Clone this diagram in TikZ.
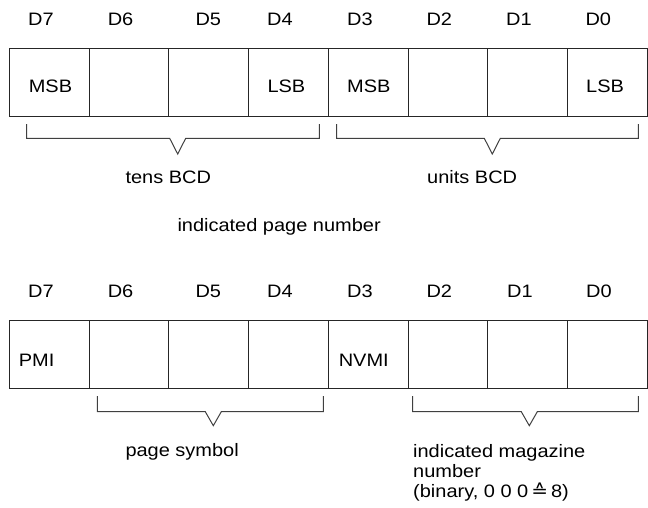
\documentclass[tikz,border=0pt]{standalone}
\usepackage{fontspec}
\setmainfont[FakeStretch=1.11]{Liberation Sans}
\newfontfamily\symfont[FakeStretch=1.11]{DejaVu Sans}
\begin{document}
\begin{tikzpicture}[x=1pt,y=-1pt,line width=1pt,
  cell/.style={draw=black!85,line width=1pt,inner sep=0pt,minimum width=79.7pt,minimum height=68.3pt,anchor=north west},
  lbl/.style={anchor=base west,inner sep=0pt,font=\fontsize{18}{20}\selectfont},
  brk/.style={draw=black!75,line width=1pt,line join=miter}]
\useasboundingbox (0,0) rectangle (648,507);
% cells of both rows
\foreach \i/\x in {7/9,6/88.7,5/168.4,4/248.1,3/327.8,2/407.5,1/487.2,0/566.9}{
  \node[cell] (t\i) at (\x,47.7) {};
  \node[cell] (b\i) at (\x,320) {};
}
% bit labels
\foreach \i/\x in {7/27.7,6/107.3,5/195,4/266.7,3/346.7,2/426,1/505.7,0/585}{
  \node[lbl] (tl\i) at (\x,25) {D\i};
}
\foreach \i/\x in {7/27.7,6/107.3,5/195,4/266.7,3/346.7,2/426,1/506.7,0/585.7}{
  \node[lbl] (bl\i) at (\x,297.5) {D\i};
}
\node[lbl] (msb1) at (28.3,92.3) {MSB};
\node[lbl] (lsb1) at (267,92.3) {LSB};
\node[lbl] (msb2) at (346.7,92.3) {MSB};
\node[lbl] (lsb2) at (585.7,92.3) {LSB};
\node[lbl] (tens) at (125,183.3) {tens BCD};
\node[lbl] (units) at (426.7,183.3) {units BCD};
\node[lbl] (ipn) at (177,231) {indicated page number};
\node[lbl] (pmi) at (18.3,366) {PMI};
\node[lbl] (nvmi) at (338.3,366) {NVMI};
\node[lbl] (psym) at (125,456.7) {page symbol};
\node[lbl,align=left,anchor=north west] (imn) at (412.7,443.5) {indicated magazine\\number\\(binary, 0 0 0\,{\symfont ≙}\,8)};
% brackets
\coordinate (k1a) at (26.7,124);  \coordinate (k1b) at (319.3,124);
\coordinate (k1t) at (177.7,154);
\coordinate (k2a) at (336.7,124); \coordinate (k2b) at (638.3,124);
\coordinate (k2t) at (492.3,154);
\coordinate (k3a) at (97.3,396);  \coordinate (k3b) at (323.3,396);
\coordinate (k3t) at (213.3,425.7);
\coordinate (k4a) at (412.7,396); \coordinate (k4b) at (638.3,396);
\coordinate (k4t) at (529.3,425.7);
\draw[brk] (k1a) -- ++(0,14.3) -| ([xshift=-8pt]k1t |- 0,138.3) -- (k1t) -- ([xshift=8pt]k1t |- 0,138.3) -| (k1b);
\draw[brk] (k2a) -- ++(0,14.3) -| ([xshift=-8pt]k2t |- 0,138.3) -- (k2t) -- ([xshift=8pt]k2t |- 0,138.3) -| (k2b);
\draw[brk] (k3a) -- ++(0,15.7) -| ([xshift=-8pt]k3t |- 0,411.7) -- (k3t) -- ([xshift=8pt]k3t |- 0,411.7) -| (k3b);
\draw[brk] (k4a) -- ++(0,15.7) -| ([xshift=-8pt]k4t |- 0,411.7) -- (k4t) -- ([xshift=8pt]k4t |- 0,411.7) -| (k4b);
\end{tikzpicture}
\end{document}
